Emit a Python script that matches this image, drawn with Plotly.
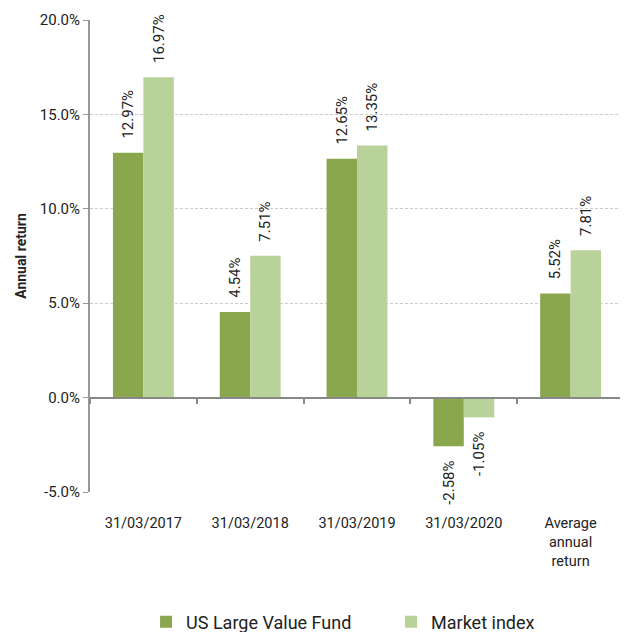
import plotly.graph_objects as go

categories = ["31/03/2017", "31/03/2018", "31/03/2019", "31/03/2020", "Average<br>annual<br>return"]
fund_values = [12.97, 4.54, 12.65, -2.58, 5.52]
index_values = [16.97, 7.51, 13.35, -1.05, 7.81]
series_names = ["US Large Value Fund", "Market index"]
y_ticks = [-5, 0, 5, 10, 15, 20]
y_tick_labels = ["-5.0%", "0.0%", "5.0%", "10.0%", "15.0%", "20.0%"]

dark = "#8aa74e"
light = "#b9d29a"
font = "Roboto, Arial, sans-serif"
pad = "\u00a0" * 3


def labels(vals):
    return [(pad + f"{v:.2f}%") if v >= 0 else (f"{v:.2f}%" + pad) for v in vals]


fig = go.Figure()
for name, vals, col in [(series_names[0], fund_values, dark), (series_names[1], index_values, light)]:
    fig.add_trace(go.Bar(
        x=categories, y=vals, name=name, marker=dict(color=col, line=dict(width=0)),
        text=labels(vals), texttemplate="%{text}", textposition="outside", textangle=-90,
        constraintext="none",
        textfont=dict(size=15, color="#222", family=font), cliponaxis=False,
    ))

fig.update_layout(
    width=620, height=624,
    margin=dict(l=82, r=4, t=12, b=140, autoexpand=False),
    paper_bgcolor="white", plot_bgcolor="white",
    barmode="group", bargap=0.43, bargroupgap=0,
    font=dict(family=font, size=15, color="#222"),
    legend=dict(orientation="h", x=0.105, xanchor="left", y=-0.2754, yanchor="middle",
                font=dict(size=18, color="#222"), entrywidth=200, traceorder="normal"),
    xaxis=dict(type="category", showline=False, ticks="outside", ticklen=18, tickcolor="rgba(0,0,0,0)",
               tickfont=dict(size=14.5, color="#222"), showgrid=False, zeroline=False, automargin=False),
    xaxis2=dict(type="linear", overlaying="x", anchor="free", position=0.2, range=[-0.5, 4.5],
                tickvals=[-0.5, 0.5, 1.5, 2.5, 3.5, 4.5], ticks="outside", ticklen=5, tickcolor="#888",
                tickwidth=1.5, showticklabels=False, showline=True, linecolor="#888", linewidth=2,
                showgrid=False, zeroline=False, automargin=False),
    yaxis=dict(range=[-5, 20], tickvals=y_ticks, ticktext=y_tick_labels,
               showline=True, linecolor="#999", linewidth=2, ticks="outside", ticklen=5, tickcolor="#999",
               showgrid=True, gridcolor="#cccccc", griddash="3px,2px", gridwidth=1, zeroline=False,
               tickfont=dict(size=15, color="#222"), automargin=False,
               title=dict(text="<b>Annual return</b>", font=dict(size=14, color="#222"), standoff=10)),
)
fig.add_trace(go.Scatter(x=[-0.5, 4.5], y=[0, 0], xaxis="x2", yaxis="y", mode="lines",
                         line=dict(color="rgba(0,0,0,0)"), showlegend=False, hoverinfo="skip"))

fig.write_html("out.html")
